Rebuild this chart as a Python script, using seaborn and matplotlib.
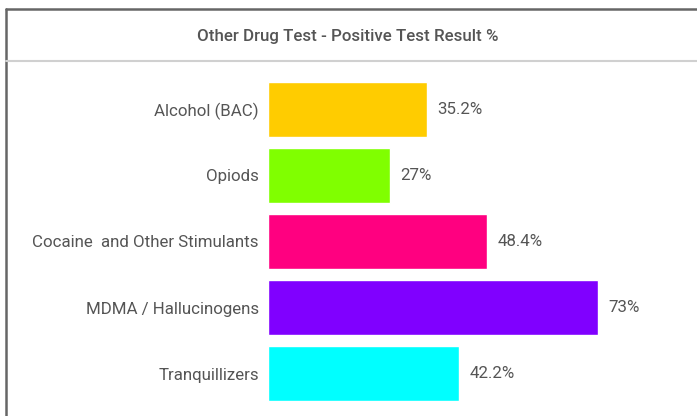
import matplotlib
matplotlib.use("Agg")
import matplotlib.pyplot as plt
import seaborn as sns
from matplotlib.lines import Line2D

sns.set_style("white")
plt.rcParams['font.family'] = ['Roboto', 'DejaVu Sans']

# data
drugs = ["Alcohol (BAC)", "Opiods", "Cocaine  and Other Stimulants",
         "MDMA / Hallucinogens", "Tranquillizers"]
positive_pct = [35.2, 27, 48.4, 73, 42.2]
bar_colors = ["#FFCC00", "#80FF00", "#FF0080", "#8000FF", "#00FFFF"]

W, H = 697, 416
fig = plt.figure(figsize=(W / 100, H / 100), dpi=100)

# axes placed so bars start at x=268 and rows span y=76..407
ax_left, ax_right = 268, 268 + 80 * 4.52
ax_top, ax_bottom = 76, 407
ax = fig.add_axes([ax_left / W, 1 - ax_bottom / H,
                   (ax_right - ax_left) / W, (ax_bottom - ax_top) / H])

sns.barplot(x=positive_pct, y=drugs, hue=drugs, palette=bar_colors,
            orient="h", width=0.83, saturation=1, legend=False, ax=ax)

for cont in ax.containers:
    ax.bar_label(cont, labels=[f"{v:g}%" for v in cont.datavalues],
                 padding=7.5, fontsize=12.2, color="#555555")

ax.set_xlim(0, 80)
ax.set_ylim(4.5, -0.5)
ax.set_xlabel("")
ax.set_ylabel("")
ax.set_xticks([])
ax.tick_params(axis="y", length=0, pad=6.5, labelsize=12.2, labelcolor="#555555")
sns.despine(ax=ax, left=True, bottom=True)

# panel frame and title strip
fig.add_artist(Line2D([6 / W, 1], [1 - 9 / H, 1 - 9 / H], color="#666666", lw=1.8))
fig.add_artist(Line2D([6 / W, 6 / W], [0, 1 - 9 / H], color="#666666", lw=1.8))
fig.add_artist(Line2D([6 / W, 1], [1 - 61 / H, 1 - 61 / H], color="#d0d0d0", lw=1.5))
fig.text(348 / W, 1 - 37 / H, "Other Drug Test - Positive Test Result %",
         ha="center", va="center", fontsize=12.2, fontweight="medium", color="#555555")

fig.savefig("out.png", dpi=100)
